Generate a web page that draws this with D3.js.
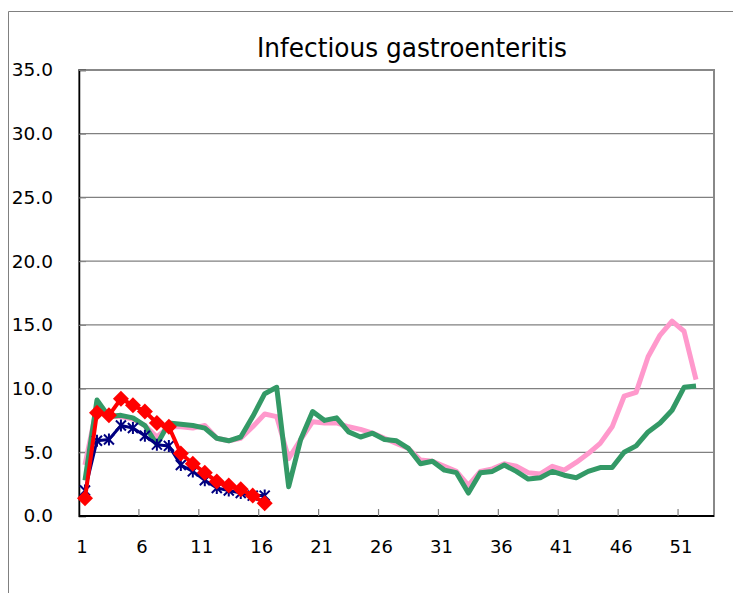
<!DOCTYPE html>
<html>
<head>
<meta charset="utf-8">
<script src="https://cdn.jsdelivr.net/npm/d3@7/dist/d3.min.js"></script>
<style>
  html, body { margin: 0; padding: 0; background: #fff; }
  svg { display: block; }
  text { font-family: "DejaVu Sans", sans-serif; fill: #000; }
</style>
</head>
<body>
<svg id="chart" width="733" height="593"></svg>
<script>
const title = "Infectious gastroenteritis";
const weeks = d3.range(1, 54);
const xTickLabels = [1, 6, 11, 16, 21, 26, 31, 36, 41, 46, 51];
const yTicks = [0, 5, 10, 15, 20, 25, 30, 35];

const seriesPink = [4.0, 8.6, 7.8, 7.8, 7.6, 7.1, 6.2, 7.0, 7.0, 6.9, 7.1, 6.1, 5.9, 6.1, 7.0, 8.0, 7.8, 4.5, 6.0, 7.4,
  7.3, 7.3, 7.0, 6.8, 6.5, 6.1, 5.7, 5.3, 4.4, 4.3, 3.9, 3.5, 2.4, 3.5, 3.7, 4.1, 3.9, 3.4, 3.3, 3.9,
  3.6, 4.2, 4.9, 5.7, 7.0, 9.4, 9.7, 12.5, 14.2, 15.3, 14.5, 10.7];
const seriesGreen = [2.8, 9.1, 7.8, 7.9, 7.7, 7.1, 5.6, 7.3, 7.2, 7.1, 6.9, 6.1, 5.9, 6.2, 7.8, 9.6, 10.1, 2.3, 6.0, 8.2,
  7.5, 7.7, 6.6, 6.2, 6.5, 6.0, 5.9, 5.3, 4.1, 4.3, 3.6, 3.4, 1.8, 3.4, 3.5, 4.0, 3.5, 2.9, 3.0, 3.5,
  3.2, 3.0, 3.5, 3.8, 3.8, 5.0, 5.5, 6.6, 7.3, 8.3, 10.1, 10.2];
const seriesNavy = [2.0, 5.9, 6.0, 7.1, 6.9, 6.3, 5.6, 5.5, 4.0, 3.5, 2.8, 2.2, 2.0, 1.8, 1.6, 1.6];
const seriesRed = [1.4, 8.1, 7.9, 9.2, 8.7, 8.2, 7.3, 7.0, 4.9, 4.1, 3.4, 2.7, 2.4, 2.1, 1.6, 1.0];

const svg = d3.select("#chart");
const L = 79, R = 714, T = 70, B = 516;

// outer frame
svg.append("line").attr("x1", 8.5).attr("x2", 733).attr("y1", 11.5).attr("y2", 11.5)
  .attr("stroke", "#808080").attr("stroke-width", 1);
svg.append("line").attr("x1", 8.5).attr("x2", 8.5).attr("y1", 11.5).attr("y2", 593)
  .attr("stroke", "#808080").attr("stroke-width", 1);

const x = d3.scaleBand().domain(weeks).range([L, R]);
const y = d3.scaleLinear().domain([0, 35]).range([B, T]);
const cx = w => x(w) + x.bandwidth() / 2;

// gridlines
svg.append("g").selectAll("line").data(yTicks.filter(v => v > 0 && v < 35)).join("line")
  .attr("x1", L).attr("x2", R).attr("y1", d => y(d)).attr("y2", d => y(d))
  .attr("stroke", "#808080").attr("stroke-width", 1.2);

// plot border
svg.append("rect").attr("x", L).attr("y", T).attr("width", R - L).attr("height", B - T)
  .attr("fill", "none").attr("stroke", "#888").attr("stroke-width", 2);

// y axis
const yAxis = d3.axisLeft(y).tickValues(yTicks).tickFormat(d3.format(".1f")).tickSize(-7).tickPadding(33);
const gy = svg.append("g").attr("transform", `translate(${L},0)`).call(yAxis);
gy.select(".domain").attr("stroke", "#000").attr("stroke-width", 1.5);
gy.selectAll(".tick line").attr("stroke", "#808080");
gy.selectAll(".tick text").attr("font-size", "18.5px").attr("font-family", "DejaVu Sans").attr("fill", "#222")
  .attr("x", -26);

// x axis: ticks at category boundaries every 5, labels at categories
const gx = svg.append("g").attr("transform", `translate(0,${B})`);
gx.append("line").attr("x1", L).attr("x2", R).attr("y1", 0).attr("y2", 0)
  .attr("stroke", "#000").attr("stroke-width", 2);
const boundaries = d3.range(5, 53, 5);
gx.selectAll("line.tk").data(boundaries).join("line").attr("class", "tk")
  .attr("x1", d => x(d + 1)).attr("x2", d => x(d + 1)).attr("y1", 0).attr("y2", -7)
  .attr("stroke", "#808080").attr("stroke-width", 1.2);
const xAxis = d3.axisBottom(x).tickValues(xTickLabels).tickSize(0).tickPadding(24);
const gxl = svg.append("g").attr("transform", `translate(-3,${B})`).call(xAxis);
gxl.select(".domain").remove();
gxl.selectAll(".tick text").attr("font-size", "18px").attr("font-family", "DejaVu Sans").attr("fill", "#222");

// title
svg.append("text").attr("x", 412).attr("y", 57).attr("text-anchor", "middle")
  .attr("font-size", "26px").attr("textLength", 310).attr("lengthAdjust", "spacingAndGlyphs")
  .attr("fill", "#222")
  .text(title);

const line = d3.line().x((d, i) => cx(weeks[i])).y(d => y(d));

svg.append("path").datum(seriesPink).attr("d", line).attr("fill", "none")
  .attr("stroke", "#FF99CC").attr("stroke-width", 5).attr("stroke-linejoin", "round");
svg.append("path").datum(seriesGreen).attr("d", line).attr("fill", "none")
  .attr("stroke", "#339966").attr("stroke-width", 5).attr("stroke-linejoin", "round");

svg.append("path").datum(seriesNavy).attr("d", line).attr("fill", "none")
  .attr("stroke", "#000080").attr("stroke-width", 3).attr("stroke-linejoin", "round");
const star = "M-5,-5L5,5M-5,5L5,-5M0,-6L0,6";
svg.append("g").selectAll("path").data(seriesNavy).join("path")
  .attr("transform", (d, i) => `translate(${cx(weeks[i])},${y(d)})`)
  .attr("d", star).attr("stroke", "#000080").attr("stroke-width", 2).attr("fill", "none");

svg.append("path").datum(seriesRed).attr("d", line).attr("fill", "none")
  .attr("stroke", "#FF0000").attr("stroke-width", 4).attr("stroke-linejoin", "round");
svg.append("g").selectAll("path").data(seriesRed).join("path")
  .attr("transform", (d, i) => `translate(${cx(weeks[i])},${y(d)})`)
  .attr("d", "M0,-8L8,0L0,8L-8,0Z").attr("fill", "#FF0000");
</script>
</body>
</html>
